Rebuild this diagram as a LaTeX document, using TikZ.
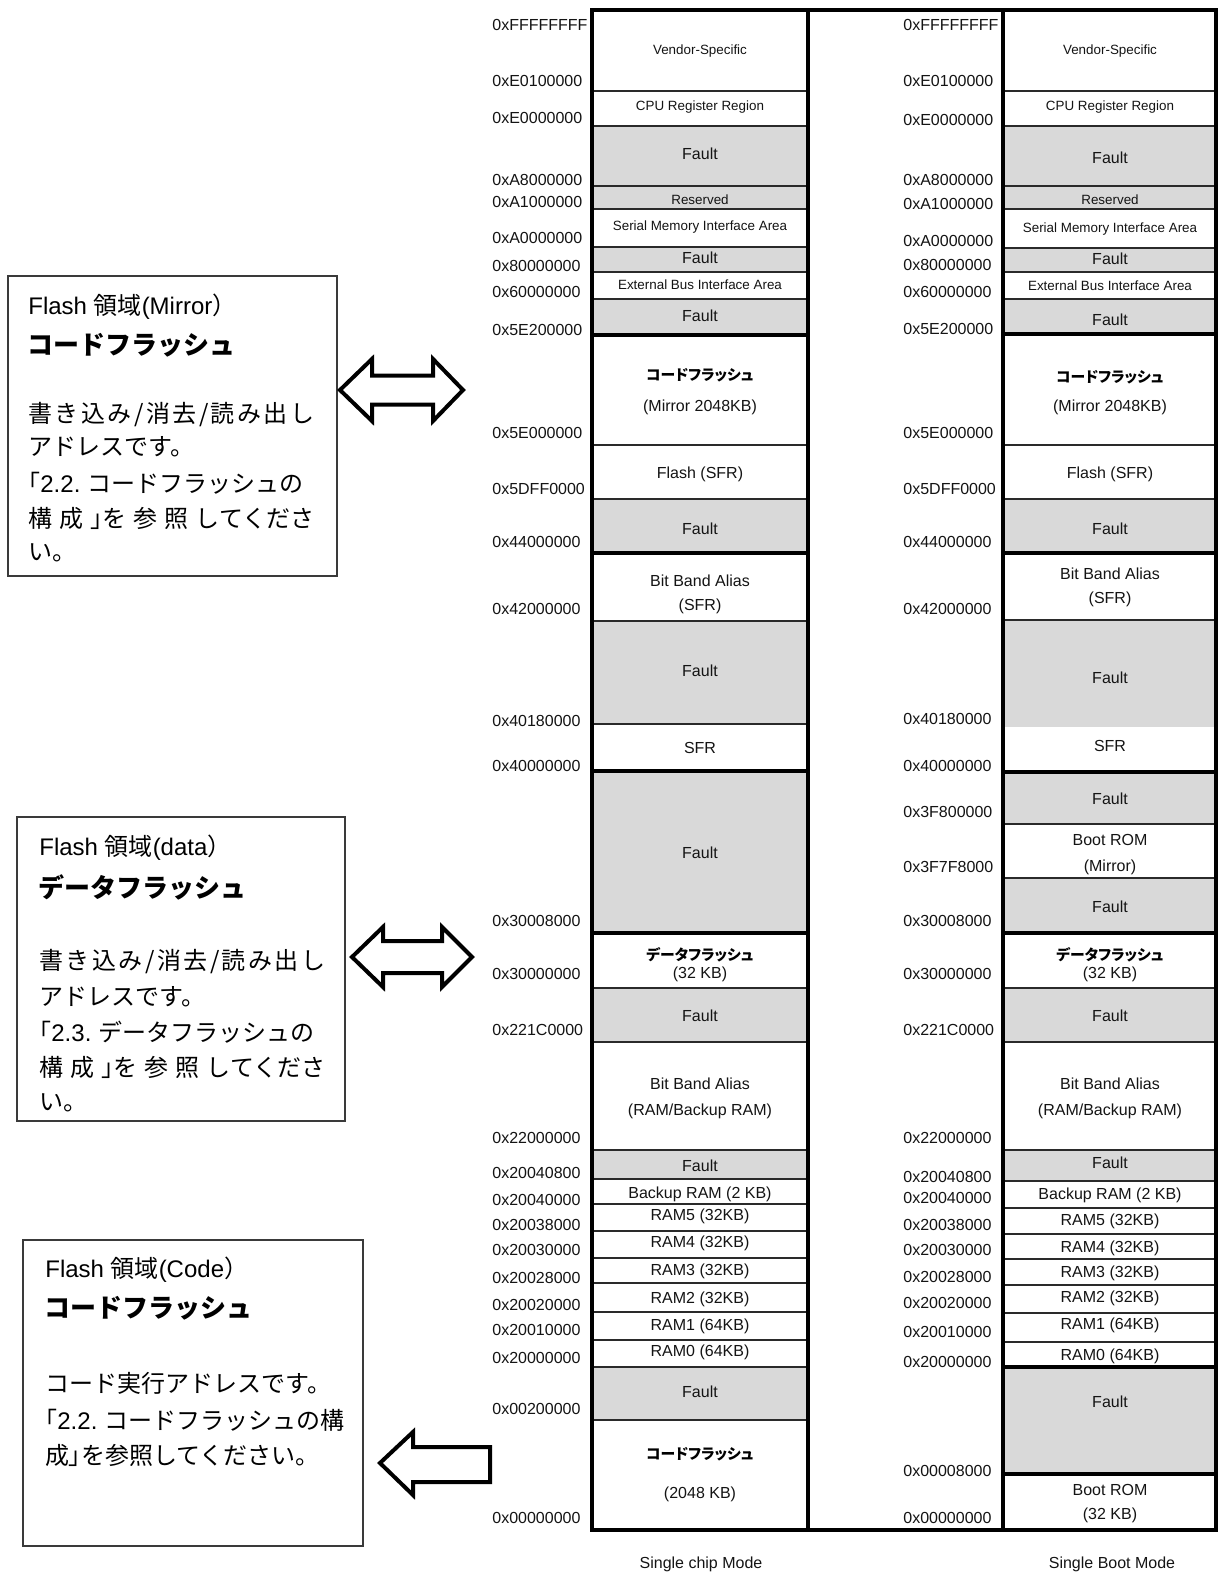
\documentclass[tikz,border=0pt]{standalone}
\usepackage{fontspec}
\setmainfont{Liberation Sans}
\newfontfamily\jp{Noto Sans CJK JP}
\newfontfamily\jpp[RawFeature=+palt]{Noto Sans CJK JP}
\definecolor{fault}{HTML}{D9D9D9}
\definecolor{ink}{HTML}{141414}
\definecolor{linec}{HTML}{2A2A2A}
\definecolor{boxc}{HTML}{3A3A3A}
\tikzset{
 addr/.style={anchor=west,inner sep=0pt,font=\fontsize{8}{9}\selectfont,text=ink},
 blab/.style={inner sep=0pt,font=\fontsize{8}{9}\selectfont,text=ink},
 slab/.style={inner sep=0pt,font=\fontsize{6.7}{8}\selectfont,text=ink},
 jlab/.style={inner sep=0pt,font=\jpp\bfseries\fontsize{7.4}{9}\selectfont},
 note/.style={anchor=west,inner sep=0pt,font=\fontsize{12}{14}\selectfont},
 notehead/.style={anchor=west,inner sep=0pt,font=\jp\bfseries\fontsize{13}{15}\selectfont},
 nbox/.style={draw=boxc,line width=0.75pt},
 septhin/.style={draw=linec,line width=0.9pt},
 septhick/.style={draw=black,line width=1.6pt},
 barrow/.style={draw=black,line width=2pt,line join=miter,fill=white},
}
\begin{document}
\begin{tikzpicture}[x=0.5pt,y=-0.5pt]
\useasboundingbox (0,0) rectangle (1218,1575);
\fill[white] (0,0) rectangle (1218,1575);
% ---- gray fills ----
\foreach \a/\b in {126/209,247/272,299/335,499/553,621/724,771/933,988/1042,1150/1179,1367/1420}
  \fill[fault] (592,\a) rectangle (808,\b);
\foreach \a/\b in {126/209,248/272,299/334,499/553,620/727,772/824,878/933,988/1042,1150/1181,1367/1474}
  \fill[fault] (1003,\a) rectangle (1216,\b);
% ---- separators ----
\foreach \y in {91,126,186,209,247,272,299,445,499,621,724,988,1042,1150,1179,1204,1231,1258,1283,1312,1340,1367,1420}
  \draw[septhin] (592,\y) -- (808,\y);
\foreach \y in {335,553,771,933}
  \draw[septhick] (592,\y) -- (808,\y);
\foreach \y in {91,126,186,209,248,272,299,445,499,620,824,878,988,1042,1150,1181,1208,1234,1259,1285,1313,1342}
  \draw[septhin] (1003,\y) -- (1216,\y);
\foreach \y in {334,553,772,933,1367,1474}
  \draw[septhick] (1003,\y) -- (1216,\y);
% ---- frame ----
\draw[black,line width=1.6pt] (592,10) rectangle (1216,1530);
\draw[black,line width=1.6pt] (808,10) -- (808,1530);
\draw[black,line width=1.6pt] (1003,10) -- (1003,1530);
% ---- left addresses ----
\foreach \y/\t [count=\i] in {25/0xFFFFFFFF,81/0xE0100000,118/0xE0000000,180/0xA8000000,202/0xA1000000,238/0xA0000000,266/0x80000000,292/0x60000000,330/0x5E200000,433/0x5E000000,489/0x5DFF0000,542/0x44000000,609/0x42000000,721/0x40180000,766/0x40000000,921/0x30008000,974/0x30000000,1030/0x221C0000,1138/0x22000000,1173/0x20040800,1200/0x20040000,1225/0x20038000,1250/0x20030000,1278/0x20028000,1305/0x20020000,1330/0x20010000,1358/0x20000000,1409/0x00200000,1518/0x00000000}
  \node[addr] (la\i) at (492,\y) {\t};
% ---- right addresses ----
\foreach \y/\t [count=\i] in {25/0xFFFFFFFF,81/0xE0100000,120/0xE0000000,180/0xA8000000,204/0xA1000000,241/0xA0000000,265/0x80000000,292/0x60000000,329/0x5E200000,433/0x5E000000,489/0x5DFF0000,542/0x44000000,609/0x42000000,719/0x40180000,766/0x40000000,812/0x3F800000,867/0x3F7F8000,921/0x30008000,974/0x30000000,1030/0x221C0000,1138/0x22000000,1177/0x20040800,1198/0x20040000,1225/0x20038000,1250/0x20030000,1277/0x20028000,1303/0x20020000,1332/0x20010000,1362/0x20000000,1471/0x00008000,1518/0x00000000}
  \node[addr] (ra\i) at (903,\y) {\t};
% ---- left block labels ----
\foreach \y/\t [count=\i] in {51/Vendor-Specific,107/CPU Register Region,200/Reserved,227/Serial Memory Interface Area,285/External Bus Interface Area}
  \node[slab] (ls\i) at (700,\y) {\t};
\foreach \y/\t [count=\i] in {154/Fault,258/Fault,316/Fault,407/(Mirror 2048KB),474/Flash (SFR),529/Fault,581/Bit Band Alias,606/(SFR),671/Fault,748/SFR,853/Fault,974/(32 KB),1016/Fault,1084/Bit Band Alias,1111/{(RAM/Backup RAM)},1166/Fault,1194/Backup RAM (2 KB),1216/RAM5 (32KB),1243/RAM4 (32KB),1271/RAM3 (32KB),1299/RAM2 (32KB),1326/RAM1 (64KB),1352/RAM0 (64KB),1392/Fault,1494/(2048 KB)}
  \node[blab] (lb\i) at (700,\y) {\t};
\node[jlab] (lj1) at (700,375) {コードフラッシュ};
\node[jlab] (lj2) at (700,955) {データフラッシュ};
\node[jlab] (lj3) at (700,1454) {コードフラッシュ};
% ---- right block labels ----
\foreach \y/\t [count=\i] in {51/Vendor-Specific,107/CPU Register Region,200/Reserved,229/Serial Memory Interface Area,286/External Bus Interface Area}
  \node[slab] (rs\i) at (1110,\y) {\t};
\foreach \y/\t [count=\i] in {158/Fault,259/Fault,320/Fault,407/(Mirror 2048KB),474/Flash (SFR),529/Fault,574/Bit Band Alias,599/(SFR),678/Fault,746/SFR,799/Fault,840/Boot ROM,867/(Mirror),907/Fault,974/(32 KB),1016/Fault,1084/Bit Band Alias,1111/{(RAM/Backup RAM)},1163/Fault,1195/Backup RAM (2 KB),1221/RAM5 (32KB),1248/RAM4 (32KB),1273/RAM3 (32KB),1298/RAM2 (32KB),1325/RAM1 (64KB),1356/RAM0 (64KB),1402/Fault,1490/Boot ROM,1515/(32 KB)}
  \node[blab] (rb\i) at (1110,\y) {\t};
\node[jlab] (rj1) at (1110,377) {コードフラッシュ};
\node[jlab] (rj2) at (1110,955) {データフラッシュ};
% ---- captions ----
\node[blab] (cap1) at (701,1564) {Single chip Mode};
\node[blab] (cap2) at (1112,1564) {Single Boot Mode};
% ---- note box 1 ----
\draw[nbox] (8,276) rectangle (337,576);
\node[note] (n1a) at (28,307) {Flash {\jp 領域}(Mirror{\jp ）}};
\node[notehead] (n1b) at (27,345) {コードフラッシュ};
\node[note] (n1c) at (28,415) {\jp\makebox[143pt][s]{書\hfil き\hfil 込\hfil み\hfil /\hfil 消\hfil 去\hfil /\hfil 読\hfil み\hfil 出\hfil し}};
\node[note] (n1d) at (28,447) {\jp アドレスです。};
\node[note] (n1e) at (28,483) {{\jpp 「}2.2.\ {\jp コードフラッシュの}};
\node[note] (n1f) at (28,518) {\jp\makebox[143pt][s]{構\hfil 成\hfil {\jpp 」}を\hfil 参\hfil 照\hfil してくださ}};
\node[note] (n1g) at (28,553) {\jp い。};
% ---- note box 2 ----
\draw[nbox] (17,817) rectangle (345,1121);
\node[note] (n2a) at (39,848) {Flash {\jp 領域}(data{\jp ）}};
\node[notehead] (n2b) at (38,887) {データフラッシュ};
\node[note] (n2c) at (39,962) {\jp\makebox[143pt][s]{書\hfil き\hfil 込\hfil み\hfil /\hfil 消\hfil 去\hfil /\hfil 読\hfil み\hfil 出\hfil し}};
\node[note] (n2d) at (39,997) {\jp アドレスです。};
\node[note] (n2e) at (39,1032) {{\jpp 「}2.3.\ {\jp データフラッシュの}};
\node[note] (n2f) at (39,1067) {\jp\makebox[143pt][s]{構\hfil 成\hfil {\jpp 」}を\hfil 参\hfil 照\hfil してくださ}};
\node[note] (n2g) at (39,1103) {\jp い。};
% ---- note box 3 ----
\draw[nbox] (23,1240) rectangle (363,1546);
\node[note] (n3a) at (45,1270) {Flash {\jp 領域}(Code{\jp ）}};
\node[notehead] (n3b) at (44,1308) {コードフラッシュ};
\node[note] (n3c) at (45,1383) {\jp コード実行アドレスです。};
\node[note] (n3d) at (45,1420) {{\jpp 「}2.2.\ {\jp コードフラッシュの構}};
\node[note] (n3e) at (45,1455) {\jp 成{\jpp 」}を参照してください。};
% ---- block arrows ----
\draw[barrow] (340,390) -- (372,359) -- (372,375.5) -- (433,375.5) -- (433,359) -- (463,390)
  -- (433,421) -- (433,404.5) -- (372,404.5) -- (372,421) -- cycle;
\draw[barrow] (352,957) -- (383,927) -- (383,941) -- (442,941) -- (442,927) -- (472,957)
  -- (442,987) -- (442,973) -- (383,973) -- (383,987) -- cycle;
\draw[barrow] (380,1463) -- (413,1432) -- (413,1447) -- (490,1447) -- (490,1482) -- (413,1482) -- (413,1495) -- cycle;
\end{tikzpicture}
\end{document}
